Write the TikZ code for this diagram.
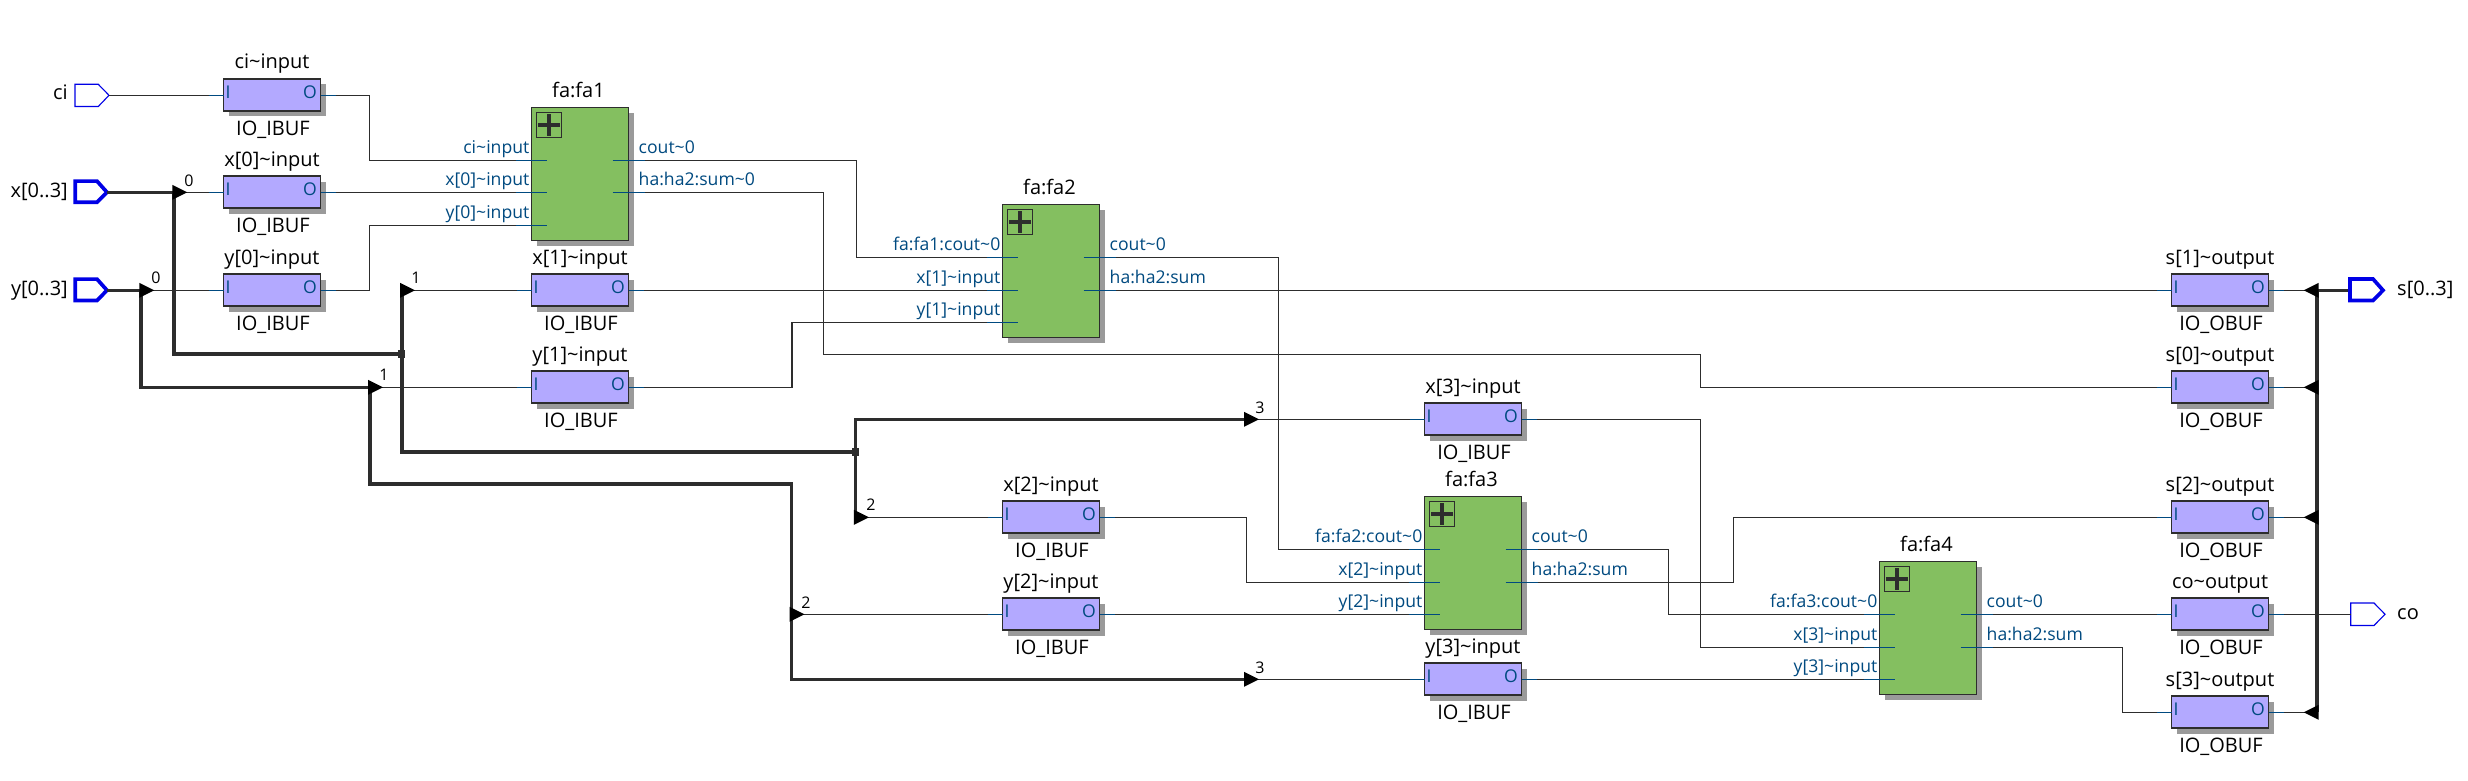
\documentclass[tikz,border=0pt]{standalone}
\usepackage{fontspec}
\setmainfont{Open Sans}
\usetikzlibrary{shadows}
\pgfdeclarelayer{fg}
\pgfsetlayers{main,fg}
\definecolor{ink}{HTML}{2D2D2D}
\definecolor{pin}{HTML}{004A80}
\definecolor{lilac}{HTML}{B3A9FF}
\definecolor{leaf}{HTML}{84BF60}
\definecolor{shade}{HTML}{9A9A9A}
\definecolor{portblue}{HTML}{0000E6}
\newcommand{\tld}{\textasciitilde}
\newcommand{\bigf}{\fontsize{20}{20}\selectfont}
\newcommand{\pinf}{\fontsize{17.6}{17.6}\selectfont}
\newcommand{\numf}{\fontsize{16}{16}\selectfont}
\tikzset{
  cellbox/.style={draw=ink,line width=1.3pt,inner sep=0pt,outer sep=0pt,anchor=north west,
    minimum width=97pt,copy shadow={shadow xshift=5.5pt,shadow yshift=-5.5pt,fill=shade,draw=none}},
  iocell/.style={cellbox,fill=lilac,minimum height=32pt},
  facell/.style={cellbox,fill=leaf,minimum height=133pt},
  expander/.style={draw=ink,line width=1.2pt,inner sep=0pt,outer sep=0pt,minimum width=25.3pt,minimum height=25.4pt,anchor=north west},
  title/.style={font=\bigf,text=black,inner sep=0pt,anchor=base},
  pintext/.style={font=\pinf,text=pin,inner sep=0pt},
  numtext/.style={font=\numf,text=black,inner sep=0pt,anchor=base},
  wire/.style={draw=ink,line width=1.2pt},
  stub/.style={draw=pin,line width=1.3pt},
  bus/.style={draw=ink,line width=3.6pt},
  tipfill/.style={fill=black,draw=none},
  thinport/.style={draw=portblue,line width=1.1pt,fill=white},
  thickport/.style={draw=portblue,line width=3.7pt,fill=white},
}
% name, left x, wire y, title, lower label
\newcommand{\iocellat}[5]{%
  \node[iocell] (#1) at (#2,#3-16.3) {};
  \node[title] (#1-t) at (#2+48.5,#3-26.3) {#4};
  \node[title] (#1-b) at (#2+49.5,#3+40.5) {#5};
  \node[pintext,anchor=base] (#1-il) at (#2+4.5,#3+2.8) {I};
  \node[pintext,anchor=base] (#1-ol) at (#2+86.5,#3+2.8) {O};
  \coordinate (#1-i) at (#2,#3);
  \coordinate (#1-o) at (#2+97,#3);
  \begin{pgfonlayer}{fg}
    \draw[stub] (#2-15,#3) -- (#1-i);
    \draw[stub] (#1-o) -- (#2+112,#3);
  \end{pgfonlayer}
}
% name, left x, port y 1,2,3, title
\newcommand{\facellat}[6]{%
  \node[facell] (#1) at (#2,#3-53) {};
  \node[title] (#1-t) at (#2+47,#3-62.5) {#6};
  \node[expander] (#1-x) at (#2+5,#3-48) {};
  \draw[ink,line width=3.6pt] (#2+17.6,#3-46) -- (#2+17.6,#3-24.5) (#2+6.5,#3-35.3) -- (#2+28.8,#3-35.3);
  \coordinate (#1-a) at (#2,#3);
  \coordinate (#1-b) at (#2,#4);
  \coordinate (#1-c) at (#2,#5);
  \coordinate (#1-p) at (#2+97,#3);
  \coordinate (#1-q) at (#2+97,#4);
  \begin{pgfonlayer}{fg}
    \draw[stub] (#2-16,#3) -- (#2+15,#3);
    \draw[stub] (#2-16,#4) -- (#2+15,#4);
    \draw[stub] (#2-16,#5) -- (#2+15,#5);
    \draw[stub] (#2+81,#3) -- (#2+113,#3);
    \draw[stub] (#2+81,#4) -- (#2+113,#4);
  \end{pgfonlayer}
}
% name, in1,in2,in3,out1,out2
\newcommand{\fapins}[6]{%
  \node[pintext,anchor=base east] (#1-al) at ([shift={(-2,-7.2)}]#1-a) {#2};
  \node[pintext,anchor=base east] (#1-bl) at ([shift={(-2,-7.2)}]#1-b) {#3};
  \node[pintext,anchor=base east] (#1-cl) at ([shift={(-2,-7.2)}]#1-c) {#4};
  \node[pintext,anchor=base west] (#1-pl) at ([shift={(10,-7.2)}]#1-p) {#5};
  \node[pintext,anchor=base west] (#1-ql) at ([shift={(10,-7.2)}]#1-q) {#6};
}
\newcommand{\tipright}[1]{\fill[tipfill] ([shift={(-1.7,-7.5)}]#1) -- ++(15,7.5) -- ++(-15,7.5) -- cycle;}
\newcommand{\tipleft}[1]{\fill[tipfill] ([shift={(1.7,-7.5)}]#1) -- ++(-15,7.5) -- ++(15,7.5) -- cycle;}
\newcommand{\junction}[1]{\fill[ink] ([shift={(-3.7,-3.9)}]#1) rectangle ([shift={(3.7,3.9)}]#1);}
\begin{document}
\begin{tikzpicture}[x=1pt,y=-1pt]
\fill[white] (0,0) rectangle (2468,781);
\useasboundingbox (0,0) rectangle (2468,781);

% cells
\iocellat{ci}{223.5}{95.3}{ci\tld input}{IO\_IBUF}
\iocellat{xz}{223.5}{192.3}{x[0]\tld input}{IO\_IBUF}
\iocellat{yz}{223.5}{290.3}{y[0]\tld input}{IO\_IBUF}
\iocellat{xo}{531.5}{290.3}{x[1]\tld input}{IO\_IBUF}
\iocellat{yo}{531.5}{387.3}{y[1]\tld input}{IO\_IBUF}
\iocellat{xw}{1002.5}{517.3}{x[2]\tld input}{IO\_IBUF}
\iocellat{yw}{1002.5}{614.3}{y[2]\tld input}{IO\_IBUF}
\iocellat{xh}{1424.5}{419.3}{x[3]\tld input}{IO\_IBUF}
\iocellat{yh}{1424.5}{679.3}{y[3]\tld input}{IO\_IBUF}
\iocellat{so}{2171.5}{290.3}{s[1]\tld output}{IO\_OBUF}
\iocellat{sz}{2171.5}{387.3}{s[0]\tld output}{IO\_OBUF}
\iocellat{sw}{2171.5}{517.3}{s[2]\tld output}{IO\_OBUF}
\iocellat{co}{2171.5}{614.3}{co\tld output}{IO\_OBUF}
\iocellat{sh}{2171.5}{712.3}{s[3]\tld output}{IO\_OBUF}

\facellat{fa1}{531.5}{160.3}{192.3}{225.3}{fa:fa1}
\fapins{fa1}{ci\tld input}{x[0]\tld input}{y[0]\tld input}{cout\tld 0}{ha:ha2:sum\tld 0}
\facellat{fa2}{1002.5}{257.3}{290.3}{322.3}{fa:fa2}
\fapins{fa2}{fa:fa1:cout\tld 0}{x[1]\tld input}{y[1]\tld input}{cout\tld 0}{ha:ha2:sum}
\facellat{fa3}{1424.5}{549.3}{582.3}{614.3}{fa:fa3}
\fapins{fa3}{fa:fa2:cout\tld 0}{x[2]\tld input}{y[2]\tld input}{cout\tld 0}{ha:ha2:sum}
\facellat{fa4}{1879.5}{614.3}{647.3}{679.3}{fa:fa4}
\fapins{fa4}{fa:fa3:cout\tld 0}{x[3]\tld input}{y[3]\tld input}{cout\tld 0}{ha:ha2:sum}

% pins at the diagram edge
\draw[thinport] (75,84.3) -- (98.3,84.3) -- (109,95.3) -- (98.3,106.5) -- (75,106.5) -- cycle;
\coordinate (cip) at (109,95.3);
\node[title,anchor=base east] (cin) at (68,100) {ci};
\draw[thickport] (75.3,181.1) -- (97,181.1) -- (107,192.3) -- (97,202.2) -- (75.3,202.2) -- cycle;
\coordinate (xp) at (107,192.3);
\node[title,anchor=base east] (xin) at (68,197.3) {x[0..3]};
\draw[thickport] (75.3,279.1) -- (97,279.1) -- (107,290.3) -- (97,300.5) -- (75.3,300.5) -- cycle;
\coordinate (yp) at (107,290.3);
\node[title,anchor=base east] (yin) at (68,295.3) {y[0..3]};
\draw[thickport] (2350,279) -- (2373,279) -- (2383,290.3) -- (2373,300.5) -- (2350,300.5) -- cycle;
\coordinate (sp) at (2348,290.3);
\node[title,anchor=base west] (sout) at (2397,295.3) {s[0..3]};
\draw[thinport] (2350.7,603) -- (2374,603) -- (2385,614.3) -- (2374,625.5) -- (2350.7,625.5) -- cycle;
\coordinate (cop) at (2350.7,614.3);
\node[title,anchor=base west] (coout) at (2397,619) {co};

% bus tap points
\coordinate (bxz) at (174,192.3);
\coordinate (bxj) at (174,353.7);
\coordinate (jxa) at (401.7,353.7);
\coordinate (bxo) at (401.7,290.3);
\coordinate (bxk) at (401.7,451.7);
\coordinate (jxb) at (855.6,451.7);
\coordinate (bxh) at (1245.7,419.3);
\coordinate (bxc) at (855.6,419.3);
\coordinate (bxw) at (855.6,517.3);
\coordinate (byz) at (141,290.3);
\coordinate (byo) at (369.8,387.3);
\coordinate (byc) at (141,387.3);
\coordinate (byd) at (369.8,484);
\coordinate (bye) at (791.3,484);
\coordinate (byw) at (791.3,614.3);
\coordinate (byf) at (791.3,679.3);
\coordinate (byh) at (1245.7,679.3);
\coordinate (bso) at (2317,290.3);
\coordinate (bsz) at (2317,387.3);
\coordinate (bsw) at (2317,517.3);
\coordinate (bsh) at (2317,712.3);

% thin wires
\draw[wire] (cip) -- (ci-i);
\draw[wire] (ci-o) -- (369.8,95.3) |- (fa1-a);
\draw[wire] (bxz) -- (xz-i);
\draw[wire] (xz-o) -- (fa1-b);
\draw[wire] (byz) -- (yz-i);
\draw[wire] (yz-o) -- (369.8,290.3) |- (fa1-c);
\draw[wire] (bxo) -- (xo-i);
\draw[wire] (xo-o) -- (fa2-b);
\draw[wire] (byo) -- (yo-i);
\draw[wire] (yo-o) -- (792,387.3) |- (fa2-c);
\draw[wire] (fa1-p) -- (856.6,160.3) |- (fa2-a);
\draw[wire] (fa1-q) -- (823.7,192.3) |- (1700.7,354.3) |- (sz-i);
\draw[wire] (fa2-p) -- (1278.7,257.3) |- (fa3-a);
\draw[wire] (fa2-q) -- (so-i);
\draw[wire] (bxh) -- (xh-i);
\draw[wire] (xh-o) -- (1700.7,419.3) |- (fa4-b);
\draw[wire] (bxw) -- (xw-i);
\draw[wire] (xw-o) -- (1246.8,517.3) |- (fa3-b);
\draw[wire] (byw) -- (yw-i);
\draw[wire] (yw-o) -- (fa3-c);
\draw[wire] (byh) -- (yh-i);
\draw[wire] (yh-o) -- (fa4-c);
\draw[wire] (fa3-p) -- (1668.3,549.3) |- (fa4-a);
\draw[wire] (fa3-q) -- (1733.7,582.3) |- (sw-i);
\draw[wire] (fa4-p) -- (co-i);
\draw[wire] (fa4-q) -- (2122.8,647.3) |- (sh-i);
\draw[wire] (so-o) -- (bso);
\draw[wire] (sz-o) -- (bsz);
\draw[wire] (sw-o) -- (bsw);
\draw[wire] (sh-o) -- (bsh);
\draw[wire] (co-o) -- (cop);

% buses
\draw[bus] (xp) -- (bxz) -- (bxj) -- (jxa);
\draw[bus] (bxo) -- (bxk) -- (jxb);
\draw[bus] (bxh) -- (bxc) -- (bxw);
\draw[bus] (yp) -- (byz) -- (byc) -- (byo) -- (byd) -- (bye) -- (byf) -- (byh);
\draw[bus] (sp) -- (bso) -- (bsh);
\junction{jxa}
\junction{jxb}
\tipright{bxz}
\tipright{bxo}
\tipright{bxh}
\tipright{bxw}
\tipright{byz}
\tipright{byo}
\tipright{byw}
\tipright{byh}
\tipleft{bso}
\tipleft{bsz}
\tipleft{bsw}
\tipleft{bsh}

% bit numbers
\node[numtext] (n0) at (189,186) {0};
\node[numtext] (n1) at (156,283.3) {0};
\node[numtext] (n2) at (416,283.3) {1};
\node[numtext] (n3) at (384,380) {1};
\node[numtext] (n4) at (1260,413) {3};
\node[numtext] (n5) at (871,510) {2};
\node[numtext] (n6) at (806,608) {2};
\node[numtext] (n7) at (1260,673) {3};
\end{tikzpicture}
\end{document}
